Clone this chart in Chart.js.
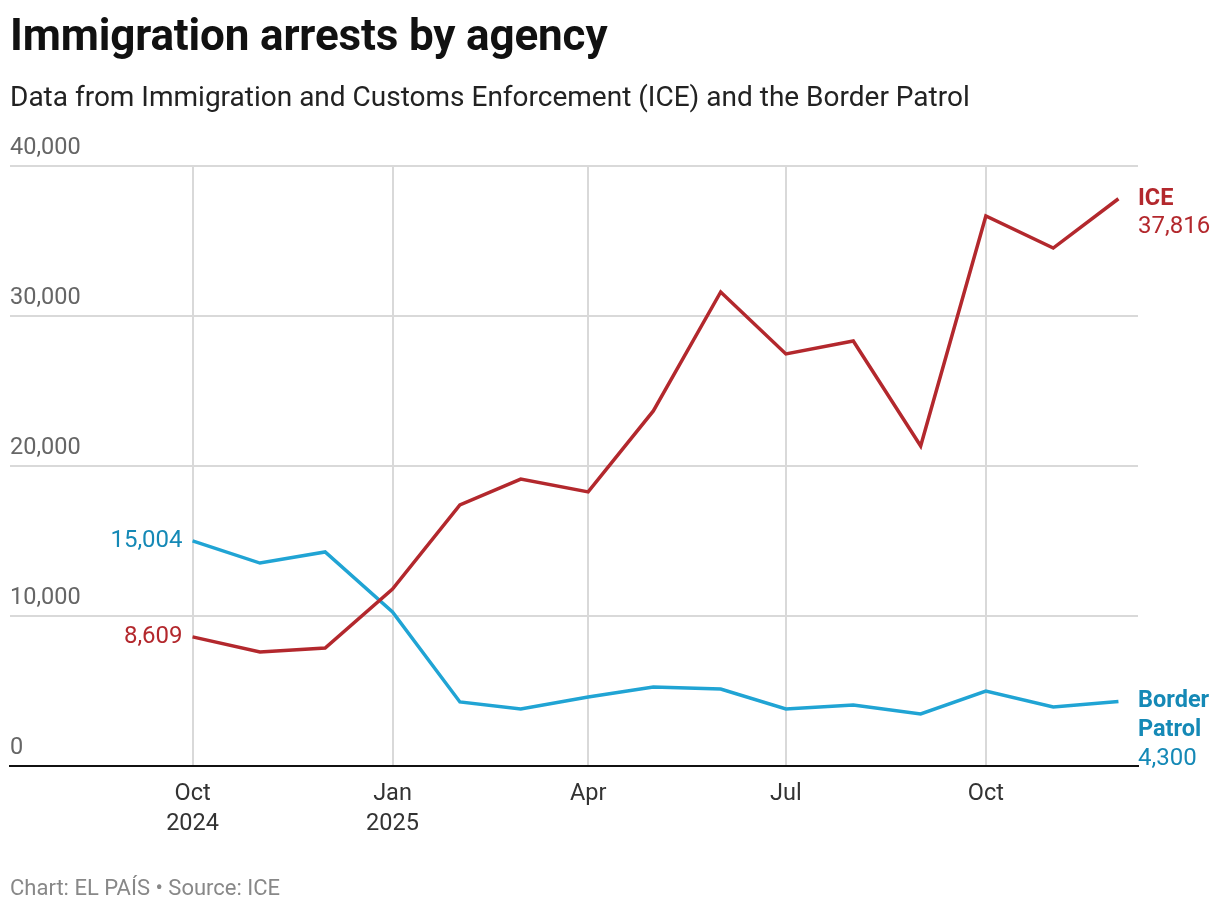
<!DOCTYPE html>
<html>
<head>
<meta charset="utf-8">
<script src="https://cdn.jsdelivr.net/npm/chart.js@4"></script>
<style>
  html, body { margin: 0; padding: 0; background: #fff; }
  body { width: 1220px; height: 912px; position: relative; overflow: hidden; font-family: Roboto, sans-serif; }
  #title { position: absolute; left: 10px; top: 9px; font-size: 44px; font-weight: 700; color: #111; letter-spacing: -0.15px; }
  #subtitle { position: absolute; left: 10px; top: 80px; font-size: 28px; color: #222; }
  #footer { position: absolute; left: 10px; top: 875px; font-size: 22px; color: #888; }
  #wrap { position: absolute; left: 0; top: 0; width: 1220px; height: 912px; }
</style>
</head>
<body>
<div id="wrap"><canvas id="chart"></canvas></div>
<div id="title">Immigration arrests by agency</div>
<div id="subtitle">Data from Immigration and Customs Enforcement (ICE) and the Border Patrol</div>
<div id="footer">Chart: EL PAÍS • Source: ICE</div>
<script>
const months = ['2024-10-01', '2024-11-01', '2024-12-01', '2025-01-01', '2025-02-01', '2025-03-01',
  '2025-04-01', '2025-05-01', '2025-06-01', '2025-07-01', '2025-08-01', '2025-09-01',
  '2025-10-01', '2025-11-01', '2025-12-01'];
const iceArrests = [8609, 7600, 7870, 11800, 17400, 19130, 18270, 23670, 31600, 27470, 28330, 21330, 36670, 34530, 37816];
const borderArrests = [15004, 13530, 14270, 10270, 4270, 3800, 4600, 5270, 5130, 3800, 4070, 3470, 5000, 3930, 4300];
const tickDates = ['2024-10-01', '2025-01-01', '2025-04-01', '2025-07-01', '2025-10-01'];
const tickLabels = [['Oct', '2024'], ['Jan', '2025'], 'Apr', 'Jul', 'Oct'];
const yTicks = [0, 10000, 20000, 30000, 40000];

const RED = '#b3282d';
const BLUE = '#20a4d4';
const BLUE_TEXT = '#1589b6';

// days since first month, so spacing follows real month lengths
const start = Date.parse(months[0]);
const day = d => (Date.parse(d) - start) / 86400000;
const toPoints = vals => vals.map((v, i) => ({x: day(months[i]), y: v}));
const fmt = n => n.toLocaleString('en-US');

const endLabels = {
  id: 'endLabels',
  afterDatasetsDraw(chart) {
    const ctx = chart.ctx;
    const x = chart.scales.x, y = chart.scales.y;
    const last = months.length - 1;
    ctx.save();
    ctx.textBaseline = 'middle';

    // first values, left of the line start
    ctx.font = '24px Roboto';
    ctx.textAlign = 'right';
    ctx.fillStyle = BLUE_TEXT;
    ctx.fillText(fmt(borderArrests[0]), x.getPixelForValue(day(months[0])) - 10, y.getPixelForValue(borderArrests[0]));
    ctx.fillStyle = RED;
    ctx.fillText(fmt(iceArrests[0]), x.getPixelForValue(day(months[0])) - 10, y.getPixelForValue(iceArrests[0]));

    // series names + last values on the right
    const rx = chart.chartArea.right;
    ctx.textAlign = 'left';
    let py = y.getPixelForValue(iceArrests[last]);
    ctx.fillStyle = RED;
    ctx.font = 'bold 23.5px Roboto';
    ctx.fillText('ICE', rx, py);
    ctx.font = '24px Roboto';
    ctx.fillText(fmt(iceArrests[last]), rx, py + 28);

    py = y.getPixelForValue(borderArrests[last]);
    ctx.fillStyle = BLUE_TEXT;
    ctx.font = 'bold 23.5px Roboto';
    ctx.fillText('Border', rx, py);
    ctx.fillText('Patrol', rx, py + 28.5);
    ctx.font = '24px Roboto';
    ctx.fillText(fmt(borderArrests[last]), rx, py + 57);
    ctx.restore();
  }
};

new Chart(document.getElementById('chart'), {
  type: 'line',
  data: {
    datasets: [
      {label: 'ICE', data: toPoints(iceArrests), borderColor: RED, borderWidth: 3.5, pointRadius: 0, tension: 0},
      {label: 'Border Patrol', data: toPoints(borderArrests), borderColor: BLUE, borderWidth: 3.5, pointRadius: 0, tension: 0}
    ]
  },
  options: {
    responsive: true,
    maintainAspectRatio: false,
    animation: false,
    layout: {padding: {left: 10, right: 82, top: 166, bottom: 0}},
    plugins: {legend: {display: false}, tooltip: {enabled: false}},
    scales: {
      x: {
        type: 'linear',
        min: -84,
        max: 435,
        afterBuildTicks: s => { s.ticks = tickDates.map(d => ({value: day(d)})); },
        afterFit: s => { s.height = 146; },
        ticks: {
          callback: (v, i) => tickLabels[i],
          color: '#333',
          font: {family: 'Roboto', size: 23.5, lineHeight: 1.28},
          padding: 13,
          maxRotation: 0,
          autoSkip: false
        },
        grid: {color: '#d9d9d9', lineWidth: 2, drawTicks: false},
        border: {display: true, color: '#111', width: 2, z: 1}
      },
      y: {
        min: 0,
        max: 40000,
        afterBuildTicks: s => { s.ticks = yTicks.map(v => ({value: v})); },
        afterFit: s => { s.width = 0; },
        ticks: {
          mirror: true,
          padding: 0,
          labelOffset: -18,
          color: '#666',
          font: {family: 'Roboto', size: 23.5},
          callback: v => fmt(v)
        },
        grid: {color: '#d9d9d9', lineWidth: 2, drawTicks: false},
        border: {display: false}
      }
    }
  },
  plugins: [endLabels]
});
</script>
</body>
</html>
